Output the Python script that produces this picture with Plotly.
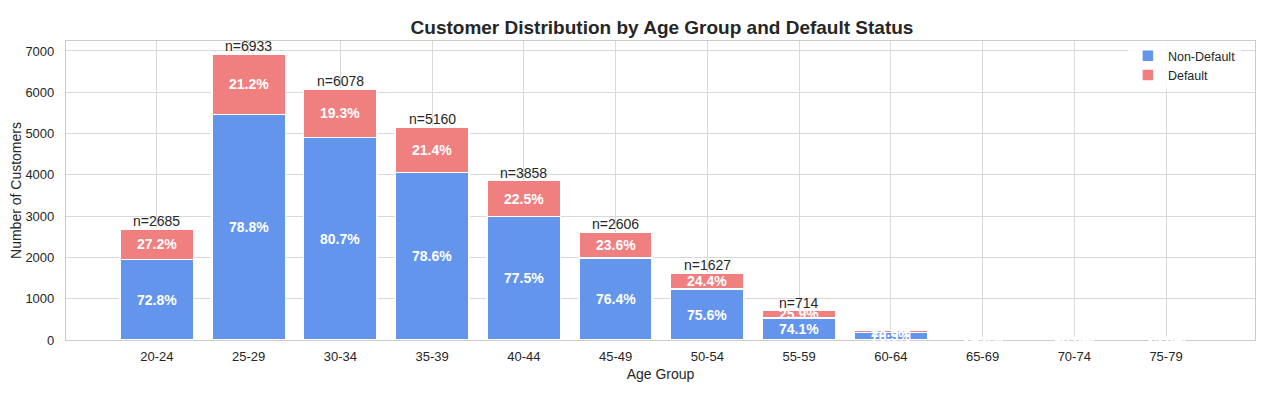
import plotly.graph_objects as go

age_groups = ["20-24", "25-29", "30-34", "35-39", "40-44", "45-49",
              "50-54", "55-59", "60-64", "65-69", "70-74", "75-79"]
non_default = [1955, 5463, 4905, 4056, 2990, 1991, 1230, 529, 176, 47, 8, 3]
default = [730, 1470, 1173, 1104, 868, 615, 397, 185, 54, 15, 2, 1]
n_label_min = 500  # n labels only shown above this total

BLUE = "#6495ED"
RED = "#F08080"
FONT = "Liberation Sans, Arial, sans-serif"
W, H = 1266, 394
OFF = 8  # page body margin offset

totals = [a + b for a, b in zip(non_default, default)]

fig = go.Figure()
fig.add_trace(go.Bar(x=age_groups, y=non_default, name="Non-Default",
                     marker=dict(color=BLUE, line=dict(color="white", width=1.5)),
                     width=0.8))
fig.add_trace(go.Bar(x=age_groups, y=default, name="Default",
                     marker=dict(color=RED, line=dict(color="white", width=1.5)),
                     width=0.8))

for i, g in enumerate(age_groups):
    t = totals[i]
    nd, d = non_default[i], default[i]
    fig.add_annotation(x=g, y=nd / 2, text=f"<b>{nd / t * 100:.1f}%</b>", showarrow=False,
                       font=dict(color="white", size=14, family=FONT))
    fig.add_annotation(x=g, y=nd + d / 2, text=f"<b>{d / t * 100:.1f}%</b>", showarrow=False,
                       font=dict(color="white", size=14, family=FONT))
    if t > n_label_min:
        fig.add_annotation(x=g, y=t, text=f"n={t}", showarrow=False, yanchor="bottom",
                           yshift=-2, font=dict(color="#262626", size=14, family=FONT))

pl, pr, pt, pb = 66 - OFF, 1255 - OFF, 41 - OFF, 340 - OFF
fig.update_layout(
    barmode="stack",
    width=W, height=H,
    margin=dict(l=pl, r=W - pr, t=pt, b=H - pb, autoexpand=False),
    paper_bgcolor="white", plot_bgcolor="white",
    font=dict(family=FONT, color="#262626", size=12),
    title=dict(text="<b>Customer Distribution by Age Group and Default Status</b>",
               x=(662 - OFF) / W, xanchor="center", y=1 - (27 - OFF) / H, yanchor="middle",
               font=dict(size=19, color="#262626", family=FONT)),
    legend=dict(x=(1266 - 15) / W, xanchor="right", y=1.0, yanchor="top", traceorder="normal",
                bgcolor="rgba(255,255,255,0.8)", font=dict(size=12.5, color="#262626"),
                itemwidth=30, tracegroupgap=0),
    bargap=0.2,
)
fig.update_xaxes(range=[-0.99, 11.97], showgrid=True, gridcolor="#d9d9d9", gridwidth=1,
                 showline=True, linecolor="#cccccc", linewidth=1.2, mirror=True,
                 ticks="", tickfont=dict(size=13, color="#262626"), automargin=False,
                 ticklabelstandoff=4,
                 title=dict(text="Age Group", font=dict(size=14, color="#262626"), standoff=6))
fig.update_yaxes(range=[0, 7242], dtick=1000, showgrid=True, gridcolor="#d9d9d9", gridwidth=1,
                 showline=True, linecolor="#cccccc", linewidth=1.2, mirror=True, zeroline=False,
                 ticks="", tickfont=dict(size=13, color="#262626"), automargin=False,
                 ticklabelstandoff=8,
                 title=dict(text="Number of Customers", font=dict(size=14, color="#262626"), standoff=4))

fig.write_html("out.html")
